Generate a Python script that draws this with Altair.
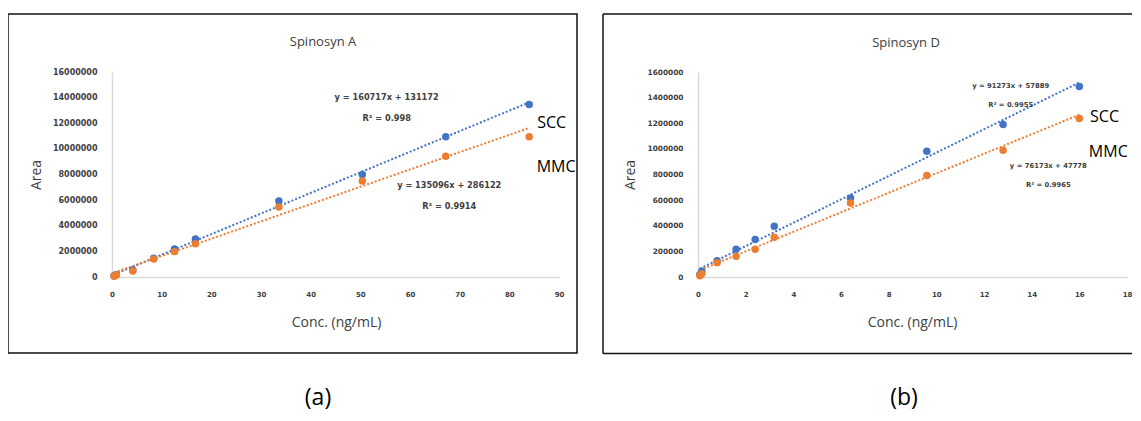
import altair as alt
import pandas as pd

BLUE = "#4472C4"
ORANGE = "#ED7D31"
series = ["SCC", "MMC"]

# ---------- (a) Spinosyn A ----------
a_conc = [0.42, 0.84, 4.2, 8.4, 12.6, 16.8, 33.6, 50.4, 67.2, 84.0]
a_scc = [100000, 180000, 540000, 1460000, 2190000, 2970000, 5940000, 8000000, 10940000, 13460000]
a_mmc = [50000, 150000, 470000, 1400000, 1980000, 2600000, 5470000, 7500000, 9430000, 10940000]
a_slope = [160717, 135096]
a_intercept = [131172, 286122]
a_r2 = ["0.998", "0.9914"]

# ---------- (b) Spinosyn D ----------
d_conc = [0.08, 0.16, 0.8, 1.6, 2.4, 3.2, 6.4, 9.6, 12.8, 16.0]
d_scc = [20000, 45000, 127000, 216000, 292000, 396000, 617000, 982000, 1190000, 1487000]
d_mmc = [10000, 25000, 112000, 161000, 216000, 310000, 578000, 792000, 990000, 1237000]
d_slope = [91273, 76173]
d_intercept = [57889, 47778]
d_r2 = ["0.9955", "0.9965"]

TICK_FONT = "DejaVu Sans"
TEXT_FONT = "Open Sans"


def one_row():
    return pd.DataFrame({"k": [0]})


def panel(title, caption, conc, scc, mmc, slopes, intercepts, r2s,
          xmax, xstep, ymax, ystep, lay):
    w, h = lay["w"], lay["h"]
    n = len(conc)
    pts = pd.DataFrame({
        "conc": list(conc) + list(conc),
        "area": list(scc) + list(mmc),
        "series": ["SCC"] * n + ["MMC"] * n,
    })
    x0, x1 = min(conc), max(conc)
    trend = pd.DataFrame([
        {"series": s, "conc": xv, "area": m * xv + b}
        for s, m, b in zip(series, slopes, intercepts) for xv in (x0, x1)
    ])
    eqs = []
    for i, (s, m, b, r) in enumerate(zip(series, slopes, intercepts, r2s)):
        ex, ey, ry = lay["eq"][i]
        eqs.append({"conc": ex, "area": ey, "text": f"y = {m}x + {b}"})
        eqs.append({"conc": ex, "area": ry, "text": f"R\u00b2 = {r}"})
    eqs = pd.DataFrame(eqs)
    names = pd.DataFrame([
        {"conc": lay["name"][i][0], "area": lay["name"][i][1], "text": s}
        for i, s in enumerate(series)
    ])

    X = alt.X("conc:Q", scale=alt.Scale(domain=[0, xmax], nice=False, zero=True),
              axis=alt.Axis(values=list(range(0, xmax + 1, xstep)), grid=False, ticks=False,
                            domainColor="#d9d9d9", domainWidth=1.5,
                            labelFont=TICK_FONT, labelFontSize=lay["xfs"], labelFontWeight="bold",
                            labelColor="#404040", labelPadding=13, labelFlush=False,
                            labelOverlap=False,
                            title="Conc. (ng/mL)", titleFont=TEXT_FONT, titleFontSize=14,
                            titleFontWeight="normal", titleColor="#404040",
                            titleX=lay["xtx"], titleY=45, titleAlign="center",
                            titleBaseline="middle"))
    Y = alt.Y("area:Q", scale=alt.Scale(domain=[0, ymax], nice=False, zero=True),
              axis=alt.Axis(values=list(range(0, ymax + 1, ystep)), format="d", grid=False,
                            ticks=False, domainColor="#d9d9d9", domainWidth=1.5,
                            labelFont=TICK_FONT, labelFontSize=lay["yfs"], labelFontWeight="bold",
                            labelColor="#404040", labelPadding=15, labelOverlap=False,
                            title="Area", titleFont=TEXT_FONT, titleFontSize=14,
                            titleFontWeight="normal", titleColor="#404040",
                            titleX=lay["ytx"], titleY=h / 2, titleAlign="center",
                            titleBaseline="middle", titleAngle=270))
    color = alt.Color("series:N", scale=alt.Scale(domain=series, range=[BLUE, ORANGE]),
                      legend=None)

    lines = alt.Chart(trend).mark_line(strokeDash=[2, 2], strokeWidth=2).encode(
        x=X, y=Y, color=color, detail="series:N")
    points = alt.Chart(pts).mark_circle(size=56, opacity=1).encode(x=X, y=Y, color=color)
    eq_text = alt.Chart(eqs).mark_text(font=TICK_FONT, fontSize=lay["efs"], fontWeight="bold",
                                       color="#404040", align="center",
                                       baseline="middle").encode(x=X, y=Y, text="text:N")
    name_text = alt.Chart(names).mark_text(font=TEXT_FONT, fontSize=16, color="black",
                                           align="left", baseline="middle").encode(
        x=X, y=Y, text="text:N")
    title_text = alt.Chart(one_row()).mark_text(font=TEXT_FONT, fontSize=13, color="#404040",
                                                align="center", baseline="middle",
                                                text=title).encode(
        x=alt.value(lay["title"][0]), y=alt.value(lay["title"][1]))
    cap_text = alt.Chart(one_row()).mark_text(font=TEXT_FONT, fontSize=23, color="black",
                                              align="center", baseline="middle",
                                              text=caption).encode(
        x=alt.value(lay["cap"][0]), y=alt.value(lay["cap"][1]))

    bl, bt, br, bb = lay["box"]
    if lay["closed"]:
        border = alt.Chart(one_row()).mark_rect(fill="transparent", stroke="#111111",
                                                strokeWidth=1.5).encode(
            x=alt.value(bl), x2=alt.value(br), y=alt.value(bt), y2=alt.value(bb))
        borders = [border]
    else:
        top = alt.Chart(one_row()).mark_rule(color="#111111", strokeWidth=1.5).encode(
            x=alt.value(bl), x2=alt.value(br), y=alt.value(bt))
        bot = alt.Chart(one_row()).mark_rule(color="#111111", strokeWidth=1.5).encode(
            x=alt.value(bl), x2=alt.value(br), y=alt.value(bb))
        left = alt.Chart(one_row()).mark_rule(color="#111111", strokeWidth=1.5).encode(
            x=alt.value(bl), y=alt.value(bt), y2=alt.value(bb))
        borders = [top, bot, left]

    return alt.layer(lines, points, eq_text, name_text, title_text, cap_text,
                     *borders).properties(width=w, height=h)


lay_a = dict(w=447, h=205, xfs=7, yfs=8, efs=8.2, xtx=224, ytx=-76,
             eq=[(55.3, 13950000, 12310000), (67.9, 7130000, 5440000)],
             name=[(85.6, 12040000), (85.5, 8610000)],
             title=(211, -30), cap=(206, 326),
             box=(-104, -58, 465, 281), closed=True)
lay_b = dict(w=429, h=205, xfs=7, yfs=7.4, efs=6.8, xtx=214, ytx=-68,
             eq=[(13.12, 1491000, 1342000), (14.70, 866000, 716000)],
             name=[(16.45, 1246000), (16.40, 973000)],
             title=(208, -29), cap=(206, 326),
             box=(-95, -58, 434, 281.5), closed=False)

pa = panel("Spinosyn A", "(a)", a_conc, a_scc, a_mmc, a_slope, a_intercept, a_r2,
           90, 10, 16000000, 2000000, lay_a)
pb = panel("Spinosyn D", "(b)", d_conc, d_scc, d_mmc, d_slope, d_intercept, d_r2,
           18, 2, 1600000, 200000, lay_b)

chart = alt.hconcat(pa, pb, spacing=24).properties(
    padding={"left": -1, "top": 5, "right": 0, "bottom": 2}
).configure_view(stroke=None)

chart.save("out.html", embed_options={"renderer": "svg", "actions": False})
